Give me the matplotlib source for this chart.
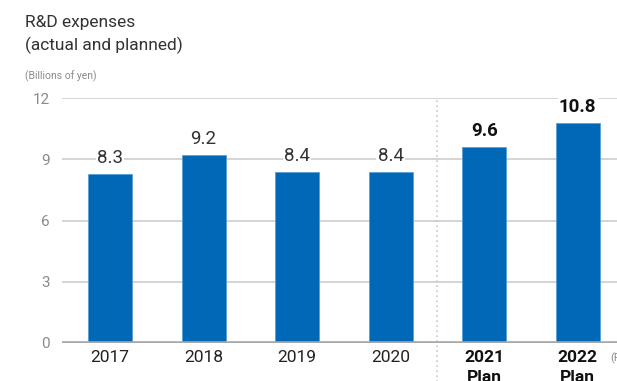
import matplotlib
matplotlib.use('Agg')
import matplotlib.pyplot as plt
from matplotlib.transforms import offset_copy

plt.rcParams['font.family'] = ['Roboto', 'DejaVu Sans']

# Data
years = ['2017', '2018', '2019', '2020', '2021', '2022']
expenses = [8.3, 9.2, 8.4, 8.4, 9.6, 10.8]
is_plan = [False, False, False, False, True, True]
y_ticks = [0, 3, 6, 9, 12]

bar_color = '#0068b7'

fig = plt.figure(figsize=(6.17, 3.81), dpi=100)
ax = fig.add_axes([62 / 617, 38 / 381, 555 / 617, 245 / 381])

x = list(range(len(years)))
ax.bar(x, expenses, width=0.47, color=bar_color, edgecolor='#5a9fd6', linewidth=0.6, zorder=3)

ax.set_xlim(-0.513, 5.42)
ax.set_ylim(0, 12)

# grid lines
for t in y_ticks[1:]:
    ax.axhline(t, color='#d4d4d4', linewidth=1.4, zorder=1)
ax.axhline(0, color='#a8a8a8', linewidth=2.6, zorder=4)

for s in ax.spines.values():
    s.set_visible(False)

ax.set_yticks(y_ticks)
ax.set_yticklabels([str(t) for t in y_ticks], color='#8a8a8a', fontsize=11)
ax.tick_params(axis='y', length=0, pad=9)

ax.set_xticks(x)
labels = []
for y, p in zip(years, is_plan):
    labels.append(y + '\nPlan' if p else y)
ax.set_xticklabels(labels, fontsize=12.5, color='#222222', linespacing=1.4, va='top')
for lbl, p in zip(ax.get_xticklabels(), is_plan):
    if p:
        lbl.set_fontweight('bold')
        lbl.set_color('#111111')
ax.tick_params(axis='x', length=0, pad=5)

# value labels
for xi, v, p in zip(x, expenses, is_plan):
    tr = offset_copy(ax.transData, fig=fig, x=0, y=5, units='points')
    ax.text(xi, v, f'{v:.1f}', transform=tr, ha='center', va='bottom',
            fontsize=13.5, fontweight='bold' if p else 'normal',
            color='#111111' if p else '#333333', zorder=5,
            bbox=dict(facecolor='white', edgecolor='none', pad=1))

# divider between actual and planned
ax.plot([3.5, 3.5], [-2, 12], color='#c8c8c8', linestyle=(0, (1, 2)),
        linewidth=1.2, clip_on=False, zorder=2)

# titles
fig.text(25 / 617, 1 - 22 / 381, 'R&D expenses', fontsize=12.5, color='#333333', va='center')
fig.text(25 / 617, 1 - 45 / 381, '(actual and planned)', fontsize=12.5, color='#333333', va='center')
fig.text(25 / 617, 1 - 76 / 381, '(Billions of yen)', fontsize=7.5, color='#8a8a8a', va='center')
fig.text(610 / 617, 1 - 358 / 381, '(FY)', fontsize=8, color='#8a8a8a', va='center')

fig.savefig('out.png', dpi=100)
